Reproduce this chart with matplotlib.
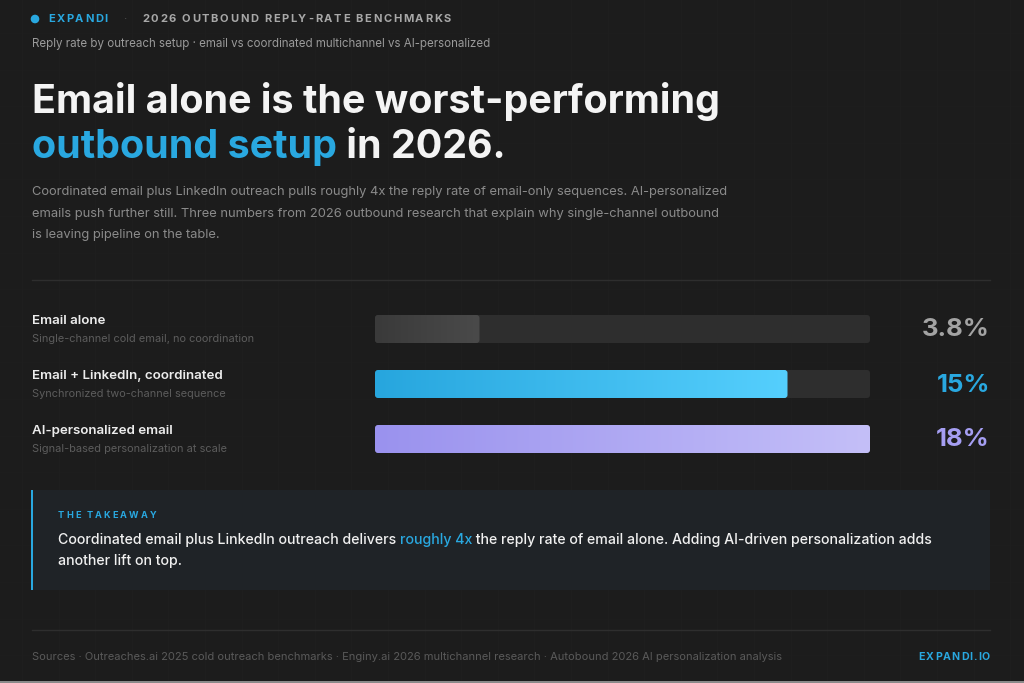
import matplotlib
matplotlib.use('Agg')
import matplotlib.pyplot as plt
from matplotlib.patches import FancyBboxPatch, Rectangle, Circle
import numpy as np

plt.rcParams['font.family'] = ['Inter', 'DejaVu Sans']

# ---------------- data ----------------
setups = ['Email alone', 'Email + LinkedIn, coordinated', 'AI-personalized email']
setup_notes = ['Single-channel cold email, no coordination',
               'Synchronized two-channel sequence',
               'Signal-based personalization at scale']
reply_rates = [3.8, 15, 18]
rate_labels = ['3.8%', '15%', '18%']
scale_max = 18

BG = '#1c1c1c'
BLUE = '#29a8e0'
bar_grads = [('#3a3a3a', '#4a4a4a'), ('#27a6de', '#55cffd'), ('#9a92ee', '#c4bff8')]
label_colors = ['#a3a3a3', BLUE, '#a59ef2']

W, H = 1024, 683
fig = plt.figure(figsize=(W / 100, H / 100), dpi=100, facecolor=BG)
bg = fig.add_axes([0, 0, 1, 1])
bg.set_xlim(0, W)
bg.set_ylim(H, 0)
bg.axis('off')
bg.set_facecolor(BG)
bg.add_patch(Rectangle((0, 0), W, H, facecolor=BG, edgecolor='none', zorder=0))

# faint background grid
for gx in np.arange(22, W, 36.6):
    bg.plot([gx, gx], [0, H], color='#1f1f1f', lw=0.6, zorder=0.5)
for gy in np.arange(33, H, 36.6):
    bg.plot([0, W], [gy, gy], color='#1e1e1e', lw=0.6, zorder=0.5)

renderer = fig.canvas.get_renderer()


def text_width(t):
    bb = t.get_window_extent(renderer=renderer)
    return bb.width


def spaced(x, y, s, tracking, **kw):
    """draw letter-spaced text char by char, returns end x"""
    for ch in s:
        t = bg.text(x, y, ch, va='center', ha='left', **kw)
        if ch == ' ':
            w = kw.get('fontsize', 10) * 0.3
            t.remove()
        else:
            w = text_width(t)
        x += w + tracking
    return x


def rich(x, y, parts, **kw):
    for s, c in parts:
        t = bg.text(x, y, s, color=c, va='baseline', ha='left', **kw)
        x += text_width(t)
    return x


# ---------------- header ----------------
bg.add_patch(Circle((35, 19), 3.6, color=BLUE, zorder=3))
spaced(48, 19, 'EXPANDI', 1.6, fontsize=8, fontweight='bold', color=BLUE)
bg.text(125, 19, '·', fontsize=8, color='#555555', va='center', ha='center')
spaced(142, 19, '2026 OUTBOUND REPLY-RATE BENCHMARKS', 1.7, fontsize=8,
       fontweight='bold', color='#a8a8a8')
bg.text(32, 44, 'Reply rate by outreach setup · email vs coordinated multichannel vs AI-personalized',
        fontsize=8.3, color='#9a9a9a', va='center', ha='left')

# ---------------- title ----------------
rich(32, 113, [('Email alone is the worst-performing', '#f4f4f4')],
     fontsize=28.4, fontweight='bold')
rich(32, 158, [('outbound setup', BLUE), (' in 2026.', '#f4f4f4')],
     fontsize=28.4, fontweight='bold')

para = ['Coordinated email plus LinkedIn outreach pulls roughly 4x the reply rate of email-only sequences. AI-personalized',
        'emails push further still. Three numbers from 2026 outbound research that explain why single-channel outbound',
        'is leaving pipeline on the table.']
for i, line in enumerate(para):
    bg.text(32, 192 + i * 21.5, line, fontsize=9.3, color='#8a8a8a', va='center', ha='left')

bg.plot([32, 990], [280, 280], color='#2e2e2e', lw=1)

# ---------------- rows ----------------
row_y = [321, 376, 431]
for i, (name, note) in enumerate(zip(setups, setup_notes)):
    bg.text(32, row_y[i], name, fontsize=9.6, fontweight='semibold', color='#ececec',
            va='center', ha='left')
    bg.text(32, row_y[i] + 18, note, fontsize=7.9, color='#5c5c5c', va='center', ha='left')

# bar axes: x 375..870 px, y rows centred at 329, 384, 439 px
x0, x1 = 375, 870
ytop, ybot = 301.5, 466.5
bax = fig.add_axes([x0 / W, 1 - ybot / H, (x1 - x0) / W, (ybot - ytop) / H])
bax.set_xlim(0, scale_max)
bax.set_ylim(2.5, -0.5)
bax.axis('off')
bax.patch.set_alpha(0)

ypos = np.arange(len(setups))
bh = 28 / 55
aspect = ((x1 - x0) / scale_max) / 55.0
rsize = 3.0 / ((x1 - x0) / scale_max)

# tracks
tracks = bax.barh(ypos, [scale_max] * len(ypos), height=bh, color='none')
for p in tracks:
    bax.add_patch(FancyBboxPatch((p.get_x(), p.get_y()), p.get_width(), p.get_height(),
                                 boxstyle=f'round,pad=0,rounding_size={rsize}',
                                 mutation_aspect=aspect, facecolor='#2e2e2e',
                                 edgecolor='none', zorder=1))

bars = bax.barh(ypos, reply_rates, height=bh, color='none')
for p, (c0, c1) in zip(bars, bar_grads):
    box = FancyBboxPatch((p.get_x(), p.get_y()), p.get_width(), p.get_height(),
                         boxstyle=f'round,pad=0,rounding_size={rsize}',
                         mutation_aspect=aspect, facecolor='none', edgecolor='none', zorder=2)
    bax.add_patch(box)
    g = np.linspace(0, 1, 256)
    ca = np.array(matplotlib.colors.to_rgb(c0))
    cb = np.array(matplotlib.colors.to_rgb(c1))
    img = (ca[None, :] * (1 - g[:, None]) + cb[None, :] * g[:, None])[None, :, :]
    im = bax.imshow(img, extent=[p.get_x(), p.get_x() + p.get_width(),
                                 p.get_y() + p.get_height(), p.get_y()],
                    aspect='auto', zorder=3, interpolation='bilinear')
    im.set_clip_path(box)
bax.set_xlim(0, scale_max)
bax.set_ylim(2.5, -0.5)

for i, lab in enumerate(rate_labels):
    bg.text(990, row_y[i] + 9, lab, fontsize=18.5, fontweight='bold',
            color=label_colors[i], va='center', ha='right')

# ---------------- takeaway ----------------
bg.add_patch(Rectangle((32, 490), 958, 100, facecolor='#1f2327', edgecolor='none', zorder=1))
bg.add_patch(Rectangle((31, 490), 2.2, 100, facecolor=BLUE, edgecolor='none', zorder=2))
spaced(58, 516, 'THE TAKEAWAY', 2.0, fontsize=6.6, fontweight='bold', color=BLUE)
rich(58, 544, [('Coordinated email plus LinkedIn outreach delivers ', '#f0f0f0'),
               ('roughly 4x', BLUE),
               (' the reply rate of email alone. Adding AI-driven personalization adds', '#f0f0f0')],
     fontsize=10.2, fontweight='medium')
rich(58, 565, [('another lift on top.', '#f0f0f0')], fontsize=10.2, fontweight='medium')

# ---------------- footer ----------------
bg.plot([32, 990], [630, 630], color='#2e2e2e', lw=1)
bg.text(32, 657, 'Sources · Outreaches.ai 2025 cold outreach benchmarks · Enginy.ai 2026 multichannel research'
        ' · Autobound 2026 AI personalization analysis',
        fontsize=8.0, color='#5a5a5a', va='center', ha='left')
t = bg.text(0, 657, 'EXPANDI.IO', fontsize=7.6, fontweight='bold', color=BLUE, va='center')
wt = text_width(t) + 9 * 1.0
t.remove()
spaced(990 - wt, 657, 'EXPANDI.IO', 1.0, fontsize=7.6, fontweight='bold', color=BLUE)

bg.add_patch(Rectangle((0, 680.5), W, 3, facecolor='#8a8a8a', edgecolor='none', zorder=4))

fig.savefig('out.png', dpi=100, facecolor=BG)
